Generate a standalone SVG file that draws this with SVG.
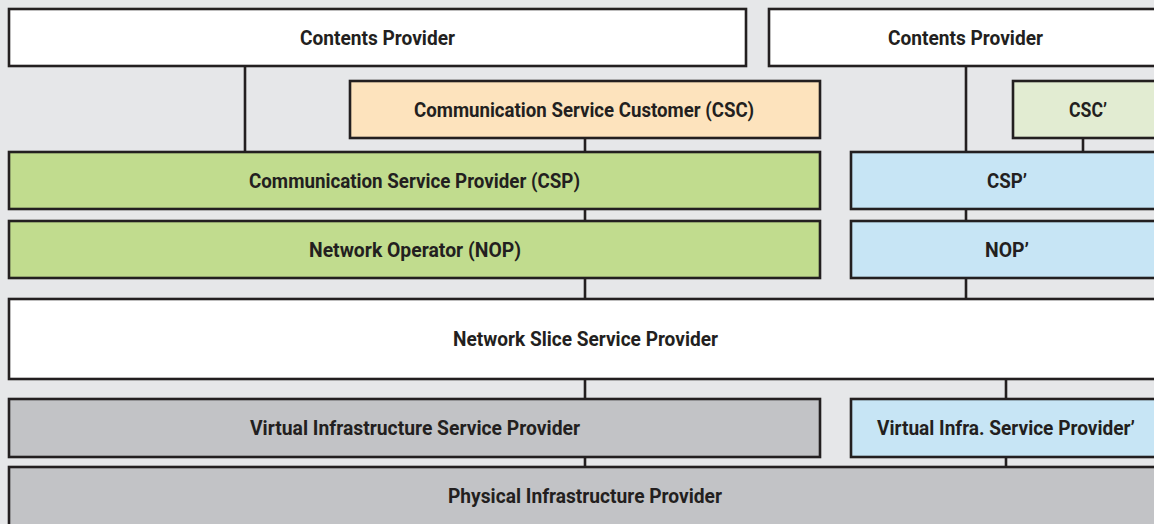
<svg xmlns="http://www.w3.org/2000/svg" width="1154" height="524" viewBox="0 0 1154 524">
<style>
.b{stroke:#231f20;stroke-width:2.6}
.w{fill:#ffffff}.o{fill:#fde3bd}.lg{fill:#e2ecd2}.g{fill:#c1dc8e}.bl{fill:#c7e5f5}.gr{fill:#c2c3c6}
text{font-family:Roboto,"Liberation Sans",sans-serif;font-weight:bold;font-size:21px;fill:#231f20;text-anchor:middle}
#connectors line{stroke:#231f20;stroke-width:2.6}
</style>
<rect x="0" y="0" width="1154" height="524" fill="#e6e7e9"/>
<g id="connectors">
<line x1="245" y1="66" x2="245" y2="152"/>
<line x1="966" y1="66" x2="966" y2="152"/>
<line x1="585" y1="138" x2="585" y2="152"/>
<line x1="1083" y1="138" x2="1083" y2="152"/>
<line x1="585" y1="209" x2="585" y2="221"/>
<line x1="966" y1="209" x2="966" y2="221"/>
<line x1="585" y1="278" x2="585" y2="299"/>
<line x1="966" y1="278" x2="966" y2="299"/>
<line x1="585" y1="379" x2="585" y2="399"/>
<line x1="1006" y1="379" x2="1006" y2="399"/>
<line x1="585" y1="457" x2="585" y2="467"/>
<line x1="1006" y1="457" x2="1006" y2="467"/>
</g>
<g id="cp1"><rect class="b w" x="9" y="9" width="737" height="57"/><text x="377.5" y="44.5" textLength="155" lengthAdjust="spacingAndGlyphs">Contents Provider</text></g>
<g id="cp2"><rect class="b w" x="769" y="9" width="394" height="57"/><text x="965.5" y="44.5" textLength="155" lengthAdjust="spacingAndGlyphs">Contents Provider</text></g>
<g id="csc"><rect class="b o" x="350" y="81" width="470" height="57"/><text x="584" y="116.5" textLength="340" lengthAdjust="spacingAndGlyphs">Communication Service Customer (CSC)</text></g>
<g id="csc2"><rect class="b lg" x="1013" y="81" width="150" height="57"/><text x="1088" y="116.5" textLength="38" lengthAdjust="spacingAndGlyphs">CSC’</text></g>
<g id="csp"><rect class="b g" x="9" y="152" width="811" height="57"/><text x="414.5" y="187.5" textLength="331" lengthAdjust="spacingAndGlyphs">Communication Service Provider (CSP)</text></g>
<g id="csp2"><rect class="b bl" x="851" y="152" width="312" height="57"/><text x="1007" y="187.5" textLength="40" lengthAdjust="spacingAndGlyphs">CSP’</text></g>
<g id="nop"><rect class="b g" x="9" y="221" width="811" height="57"/><text x="415" y="256.5" textLength="212" lengthAdjust="spacingAndGlyphs">Network Operator (NOP)</text></g>
<g id="nop2"><rect class="b bl" x="851" y="221" width="312" height="57"/><text x="1007" y="256.5" textLength="44" lengthAdjust="spacingAndGlyphs">NOP’</text></g>
<g id="nssp"><rect class="b w" x="9" y="299" width="1154" height="80"/><text x="585.5" y="345.5" textLength="265" lengthAdjust="spacingAndGlyphs">Network Slice Service Provider</text></g>
<g id="visp"><rect class="b gr" x="9" y="399" width="811" height="58"/><text x="415" y="434.5" textLength="330" lengthAdjust="spacingAndGlyphs">Virtual Infrastructure Service Provider</text></g>
<g id="visp2"><rect class="b bl" x="851" y="399" width="312" height="58"/><text x="1006" y="434.5" textLength="258" lengthAdjust="spacingAndGlyphs">Virtual Infra. Service Provider’</text></g>
<g id="pip"><rect class="b gr" x="9" y="467" width="1154" height="70"/><text x="585" y="502.5" textLength="274" lengthAdjust="spacingAndGlyphs">Physical Infrastructure Provider</text></g>
</svg>
